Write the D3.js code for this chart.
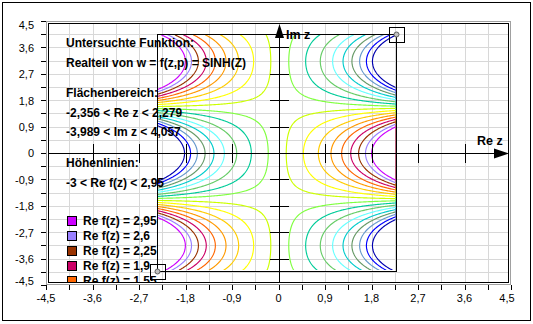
<!DOCTYPE html>
<html><head><meta charset="utf-8">
<script src="https://cdn.jsdelivr.net/npm/d3@7"></script>
<style>
body{margin:0;background:#fff}
svg{display:block}
text{font-family:"Liberation Sans",Arial,sans-serif;fill:#000}
</style>
</head><body><svg id="c" width="533" height="324"></svg>
<script>
// ---- data ----
const axisTicks = [-4.5,-3.6,-2.7,-1.8,-0.9,0,0.9,1.8,2.7,3.6,4.5];
const tickLabels = ["-4,5","-3,6","-2,7","-1,8","-0,9","0","0,9","1,8","2,7","3,6","4,5"];
const minorTicks = [-4.5,-4.05,-3.6,-3.15,-2.7,-2.25,-1.8,-1.35,-0.9,-0.45,0,0.45,0.9,1.35,1.8,2.25,2.7,3.15,3.6,4.05,4.5];
const innerTicks = [-3.6,-2.7,-1.8,-0.9,0.9,1.8,2.7,3.6];
const reRange = [-2.356, 2.279];
const imRange = [-3.989, 4.057];
const levels = [2.95,2.6,2.25,1.9,1.55,1.2,0.85,0.5,0.15,-0.2,-0.55,-0.9,-1.25,-1.6,-1.95,-2.3,-2.65,-3];
const levelColors = ["#cc00ff","#9980ff","#993300","#cc0066","#ff6600","#ff9900","#ffcc00","#ffff00","#ccff00",
                     "#80ff40","#00cc99","#66cc66","#66ffff","#00cccc","#669966","#6699cc","#0000ff","#0000b0"];
const legendLabels = ["Re f(z) = 2,95","Re f(z) = 2,6","Re f(z) = 2,25","Re f(z) = 1,9","Re f(z) = 1,55"];
const infoLines = [
  ["Untersuchte Funktion:",43],
  ["Realteil von w = f(z,p) = SINH(Z)",63],
  ["Flächenbereich:",93],
  ["-2,356 < Re z < 2,279",113],
  ["-3,989 < Im z < 4,057",132],
  ["Höhenlinien:",163],
  ["-3 < Re f(z) < 2,95",183]
];
// field of the chart: Re sinh(z) = sinh(x)·cos(y)
const field = (re, im) => Math.sinh(re) * Math.cos(im);

// ---- scales ----
const svg = d3.select("#c");
const x = d3.scaleLinear([-4.5,4.5],[46,511]);
const y = d3.scaleLinear([-4.5,4.5],[285.5,21.5]);
const px = v => Math.round(x(v)) + 0.5;
const py = v => Math.floor(y(v)) + 0.5;

// outer border
svg.append("rect").attr("x",2.5).attr("y",2.5).attr("width",528).attr("height",318)
  .attr("fill","none").attr("stroke","#000");

// grid
const g = svg.append("g").attr("shape-rendering","crispEdges");
g.selectAll("line.gx").data(minorTicks.filter(v=>Math.abs(v)<4.5)).join("line")
  .attr("x1",d=>px(d)).attr("x2",d=>px(d)).attr("y1",23).attr("y2",283).attr("stroke","#d8d8d8");
g.selectAll("line.gy").data(minorTicks.filter(v=>Math.abs(v)<4.5)).join("line").attr("class","gy")
  .attr("y1",d=>py(d)).attr("y2",d=>py(d)).attr("x1",48).attr("x2",509).attr("stroke","#d8d8d8");

// contours
const nx = 240, ny = 236;
const vals = new Float64Array(nx*ny);
for (let j=0;j<ny;j++){
  const im = imRange[1] - (j+0.5)/ny*(imRange[1]-imRange[0]);
  for (let i=0;i<nx;i++){
    const re = reRange[0] + (i+0.5)/nx*(reRange[1]-reRange[0]);
    vals[j*nx+i] = field(re, im);
  }
}
const X0 = x(reRange[0]), X1 = x(reRange[1]), Y0 = y(imRange[1]), Y1 = y(imRange[0]);
const gx = d3.scaleLinear([0,nx],[X0,X1]);
const gy = d3.scaleLinear([0,ny],[Y0,Y1]);
const path = d3.geoPath(d3.geoTransform({point(a,b){this.stream.point(gx(a),gy(b));}}));
const contours = d3.contours().size([nx,ny]).thresholds(levels)(vals);
svg.append("clipPath").attr("id","cc").append("rect")
  .attr("x",X0+0.6).attr("y",Y0+0.6).attr("width",X1-X0-1.2).attr("height",Y1-Y0-1.2);
svg.append("g").attr("clip-path","url(#cc)").selectAll("path").data(contours).join("path")
  .attr("d",path).attr("fill","none")
  .attr("stroke",d=>levelColors[levels.indexOf(d.value)]).attr("stroke-width",1.15);

// contour frame
svg.append("rect").attr("x",Math.round(X0)+0.5).attr("y",Math.round(Y0)+0.5)
  .attr("width",Math.round(X1)-Math.round(X0)).attr("height",Math.round(Y1)-Math.round(Y0))
  .attr("fill","none").attr("stroke","#000").attr("shape-rendering","crispEdges");

// plot frames
svg.append("rect").attr("x",46.5).attr("y",21.5).attr("width",464).attr("height",263)
  .attr("fill","none").attr("stroke","#a0a0a0").attr("shape-rendering","crispEdges");
svg.append("rect").attr("x",48.5).attr("y",23.5).attr("width",460).attr("height",259)
  .attr("fill","none").attr("stroke","#000").attr("shape-rendering","crispEdges");

// outer axes ticks
const ax = svg.append("g").attr("shape-rendering","crispEdges");
ax.selectAll("line.bt").data(minorTicks).join("line").attr("class","bt")
  .attr("x1",d=>px(d)).attr("x2",d=>px(d)).attr("y1",285).attr("y2",290).attr("stroke","#000");
ax.selectAll("line.lt").data(minorTicks).join("line").attr("class","lt")
  .attr("y1",d=>py(d)).attr("y2",d=>py(d)).attr("x1",41).attr("x2",46).attr("stroke","#000");

svg.selectAll("text.xl").data(axisTicks).join("text").attr("class","xl")
  .attr("x",d=>Math.max(43,Math.min(507,x(d)))).attr("y",298).attr("dy","0.35em")
  .attr("text-anchor","middle").attr("font-size",11)
  .text((d,i)=>tickLabels[i]);
svg.selectAll("text.yl").data(axisTicks).join("text").attr("class","yl")
  .attr("x",34).attr("y",d=>Math.max(25,Math.min(281,y(d)))).attr("dy","0.35em")
  .attr("text-anchor","end").attr("font-size",11)
  .text((d,i)=>tickLabels[i]);

// inner axes
const ia = svg.append("g").attr("shape-rendering","crispEdges");
ia.append("line").attr("x1",48).attr("x2",495).attr("y1",py(0)).attr("y2",py(0)).attr("stroke","#000");
ia.append("line").attr("x1",px(0)).attr("x2",px(0)).attr("y1",282).attr("y2",37).attr("stroke","#000");
ia.selectAll("line.it").data(innerTicks).join("line").attr("class","it")
  .attr("x1",d=>px(d)).attr("x2",d=>px(d)).attr("y1",py(0)-9.5).attr("y2",py(0)+9.5).attr("stroke","#000");
ia.selectAll("line.jt").data(innerTicks).join("line").attr("class","jt")
  .attr("y1",d=>py(d)).attr("y2",d=>py(d)).attr("x1",px(0)-9.5).attr("x2",px(0)+9.5).attr("stroke","#000");
svg.append("path").attr("d",`M494,${py(0)-5}L509,${py(0)}L494,${py(0)+5}Z`).attr("fill","#000");
svg.append("path").attr("d",`M${px(0)-4.5},38L${px(0)},24L${px(0)+4.5},38Z`).attr("fill","#000");
svg.append("text").attr("x",477).attr("y",145).attr("font-size",12.5).attr("font-weight","bold").text("Re z");
svg.append("text").attr("x",286).attr("y",39).attr("font-size",12.5).attr("font-weight","bold").text("Im z");

// handles
[[X1,Y0],[X0,Y1]].forEach(([a,b])=>{
  const cx=Math.round(a)+0.5, cy=Math.round(b)+0.5;
  svg.append("rect").attr("x",cx-7.5).attr("y",cy-7.5).attr("width",15).attr("height",15)
    .attr("fill","none").attr("stroke","#000").attr("shape-rendering","crispEdges");
  svg.append("circle").attr("cx",cx).attr("cy",cy).attr("r",2.5).attr("fill","#c0c0c0").attr("stroke","#606060");
});

// info text
svg.selectAll("text.info").data(infoLines).join("text").attr("class","info")
  .attr("x",66).attr("y",d=>d[1]).attr("dy","0.35em").attr("font-size",12).attr("font-weight","bold")
  .text(d=>d[0]);

// legend
svg.append("clipPath").attr("id","lc").append("rect").attr("x",48).attr("y",23).attr("width",460).attr("height",259);
const lg = svg.append("g").attr("clip-path","url(#lc)");
const ly = d3.scaleLinear([0,1],[220.5,235.5]);
lg.selectAll("rect").data(legendLabels).join("rect")
  .attr("x",67.5).attr("y",(d,i)=>Math.round(ly(i))-4.5).attr("width",9).attr("height",9)
  .attr("fill",(d,i)=>levelColors[i]).attr("stroke","#000").attr("shape-rendering","crispEdges");
lg.selectAll("text").data(legendLabels).join("text")
  .attr("x",83).attr("y",(d,i)=>ly(i)).attr("dy","0.35em").attr("font-size",12).attr("font-weight","bold")
  .text(d=>d);
</script>
</body></html>
